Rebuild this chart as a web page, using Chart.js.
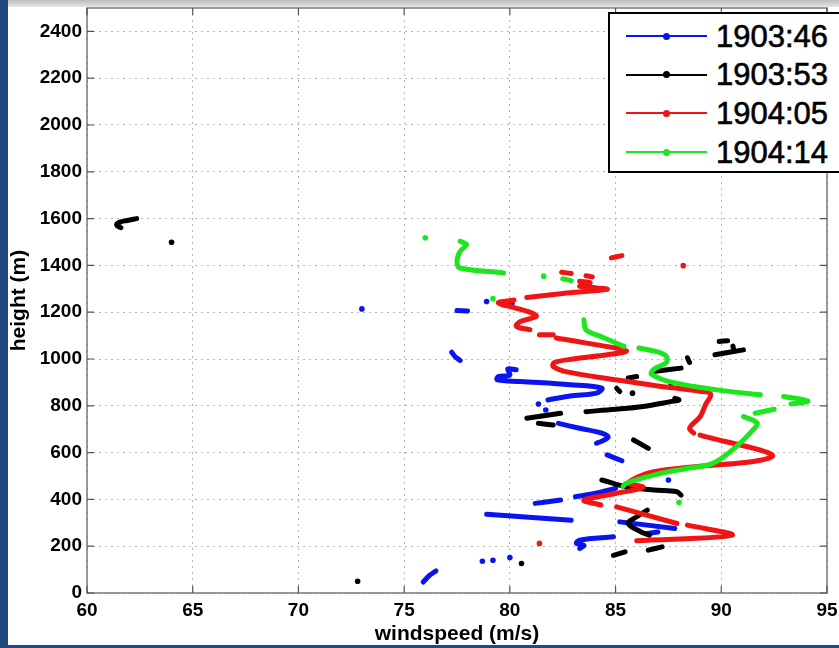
<!DOCTYPE html>
<html>
<head>
<meta charset="utf-8">
<script src="https://cdn.jsdelivr.net/npm/chart.js@4.4.1/dist/chart.umd.min.js"></script>
<style>
  html, body { margin:0; padding:0; background:#fff; overflow:hidden; }
  #wrap { position:relative; width:839px; height:648px; overflow:hidden; background:#fff; }
  #wrap canvas { position:absolute; left:0; top:0; }
  .band { position:absolute; background:#1f4a7e; }
  #topbar { position:absolute; left:0; top:0; width:839px; height:7px;
            background:linear-gradient(#bcbcbc,#e6e6e6); }
  #legend { position:absolute; left:608px; top:12px; width:250px; height:157px;
            border:2px solid #000; background:#fff; }
  .lg-line { position:absolute; height:2px; }
  .lg-dot { position:absolute; width:7px; height:7px; border-radius:50%; }
  .lg-text { position:absolute; font-family:"Liberation Sans", Arial, sans-serif;
             font-size:31px; color:#000; line-height:31px; -webkit-text-stroke:0.6px #000; }
</style>
</head>
<body>
<div id="wrap">
  <div id="topbar"></div>
  <canvas id="c" width="839" height="648"></canvas>
  <div class="band" style="left:0;top:0;width:8px;height:648px"></div>
  <div class="band" style="left:0;top:645px;width:839px;height:3px"></div>
  <div id="legend"></div>
</div>
<script>
/* ===== DATA (windspeed m/s, height m) — null breaks a trace ===== */
const labels = ['1903:46','1903:53','1904:05','1904:14'];
const colors = ['#0a14f0','#000000','#f01414','#1ee61e'];

const xTicks = [60,65,70,75,80,85,90,95];
const yTicks = [0,200,400,600,800,1000,1200,1400,1600,1800,2000,2200,2400];

const blueWs = [73.0,null, 78.9,null, 80.1,null, 77.5,78.0,null,
  77.25,77.4,77.65,null,
  80.3,79.9,80.0,79.45,79.4,80.5,82.85,84.35,84.1,82.85,81.8,null,
  81.35,null, 81.7,null,
  82.3,83.3,84.35,84.65,84.3,84.1,null,
  84.6,85.3,null, 87.5,null,
  83.1,84.0,85.0,null, 81.2,82.4,null, 78.9,82.9,null,
  85.2,87.8,null, 86.5,87.0,null,
  84.9,83.3,83.15,83.5,83.3,null,
  80.0,null, 79.2,null, 78.7,null,
  76.5,76.2,75.9];
const blueH = [1214,null, 1246,null, 1238,null, 1207,1205,null,
  1029,1011,994,null,
  954,957,932,925,911,904,890,875,854,842,825,null,
  808,null, 782,null,
  725,704,683,666,647,640,null,
  590,565,null, 483,null,
  411,425,447,null, 383,397,null, 337,311,null,
  304,276,null, 254,261,null,
  240,226,212,204,190,null,
  152,null, 140,null, 136,null,
  94,75,47];

const blackWs = [62.35,61.9,61.55,61.4,61.6,null, 64.0,null,
  89.9,90.3,null, 90.55,90.6,null, 89.7,91.05,null,
  88.4,88.5,null, 86.8,88.1,null, 85.6,86.0,null,
  85.05,85.2,null, 85.8,null, 87.6,null,
  83.6,85.0,86.3,87.6,88.0,87.8,null,
  80.8,82.4,null, 81.35,82.05,null,
  85.85,86.55,null,
  84.35,85.5,86.8,87.9,88.1,null,
  86.5,86.0,85.6,86.2,86.6,null,
  84.9,85.45,null, 86.55,87.2,null,
  80.55,null, 72.8];
const blackH = [1600,1592,1585,1572,1561,null, 1499,null,
  1075,1078,null, 1055,1035,null, 1018,1039,null,
  1005,985,null, 947,961,null, 919,925,null,
  875,861,null, 854,null, 882,null,
  775,785,797,818,825,832,null,
  747,768,null, 725,718,null,
  654,618,null,
  483,454,440,433,418,null,
  354,326,297,261,247,null,
  161,176,null, 183,197,null,
  126,null, 50];

const redWs = [84.8,85.3,null, 88.2,null, 82.45,82.9,null, 83.6,83.9,null,
  83.3,83.8,83.3,84.1,84.6,82.5,80.8,null,
  80.2,79.45,80.2,81.0,81.25,80.5,80.3,80.95,null,
  81.4,82.05,null,
  82.2,83.5,85.5,84.6,83.0,82.1,82.05,82.7,84.9,87.0,89.0,89.5,89.25,89.0,88.5,88.7,null,
  89.0,92.4,86.8,85.6,86.3,85.0,83.5,84.3,null,
  85.05,87.9,null, 88.4,90.5,86.0,null,
  81.4];
const redH = [1432,1442,null, 1399,null, 1371,1365,null, 1356,1351,null,
  1332,1325,1311,1304,1298,1280,1263,null,
  1252,1240,1220,1198,1182,1160,1140,1125,null,
  1104,1104,null,
  1090,1070,1035,1018,1000,985,968,945,912,885,862,850,804,754,704,683,null,
  675,583,518,470,452,425,397,376,null,
  368,297,null, 290,247,223,null,
  212];

const greenWs = [76.0,null,
  77.65,77.95,77.65,77.5,77.65,79.7,null,
  81.6,null, 82.5,82.9,null, 79.2,null,
  83.5,83.6,84.3,85.4,null,
  86.1,87.0,87.4,87.4,86.8,86.7,87.7,89.8,91.85,null,
  92.95,94.1,93.3,null, 92.5,91.6,null,
  91.05,91.7,91.5,90.7,89.6,88.4,86.8,85.5,85.35,null,
  88.0];
const greenH = [1518,null,
  1503,1489,1460,1418,1389,1368,null,
  1354,null, 1343,1335,null, 1258,null,
  1168,1125,1096,1054,null,
  1047,1030,1011,985,955,935,900,868,847,null,
  840,820,808,null, 785,768,null,
  754,726,697,625,554,533,504,469,455,null,
  387];

const FONT = "'Liberation Sans', Arial, sans-serif";

function pts(ws, h) {
  return ws.map((x, i) => ({ x: x, y: h[i] }));
}

// lone points (no neighbour on either side) get a dot, traces get none
function dotRadius(ctx) {
  const d = ctx.dataset.data, i = ctx.dataIndex;
  const p = d[i - 1], n = d[i + 1];
  const lone = (!p || p.y === null) && (!n || n.y === null);
  return lone ? 2.8 : 0;
}

function series(i, ws, h, order) {
  return {
    label: labels[i], data: pts(ws, h), order: order,
    showLine: true, spanGaps: false, tension: 0.35,
    borderColor: colors[i], backgroundColor: colors[i],
    borderWidth: 5, borderCapStyle: 'round', borderJoinStyle: 'round',
    pointRadius: dotRadius, pointBorderWidth: 0, pointHoverRadius: 0,
  };
}

/* ===== frame + inward MATLAB-style ticks ===== */
const frame = {
  id: 'frame',
  afterDraw(chart) {
    const { ctx, chartArea: a, scales } = chart;
    ctx.save();
    ctx.strokeStyle = '#7a7a7a'; ctx.lineWidth = 1.5;
    ctx.strokeRect(a.left, a.top, a.right - a.left, a.bottom - a.top);
    ctx.strokeStyle = '#555'; ctx.lineWidth = 1.2;
    ctx.beginPath();
    xTicks.forEach(v => {
      const px = scales.x.getPixelForValue(v);
      ctx.moveTo(px, a.bottom); ctx.lineTo(px, a.bottom - 7);
      ctx.moveTo(px, a.top); ctx.lineTo(px, a.top + 7);
    });
    yTicks.forEach(v => {
      const py = scales.y.getPixelForValue(v);
      ctx.moveTo(a.left, py); ctx.lineTo(a.left + 7, py);
      ctx.moveTo(a.right, py); ctx.lineTo(a.right - 7, py);
    });
    ctx.stroke();
    ctx.restore();
  }
};

function noPad(s) {
  s.paddingTop = 0; s.paddingBottom = 0; s.paddingLeft = 0; s.paddingRight = 0;
}

new Chart(document.getElementById('c'), {
  type: 'scatter',
  data: {
    datasets: [
      series(0, blueWs, blueH, 3),
      series(1, blackWs, blackH, 2),
      series(2, redWs, redH, 1),
      series(3, greenWs, greenH, 0),
    ]
  },
  options: {
    responsive: false, animation: false, events: [],
    layout: { padding: { left: 0, top: 8, right: 12, bottom: 0 } },
    plugins: { legend: { display: false }, tooltip: { enabled: false } },
    scales: {
      x: {
        type: 'linear', min: 60, max: 95,
        afterBuildTicks: s => { s.ticks = xTicks.map(v => ({ value: v })); },
        afterFit: s => { s.height = 55; noPad(s); },
        grid: { color: '#b4b4b4', lineWidth: 1, drawTicks: false },
        border: { display: false, dash: [2, 4] },
        ticks: { font: { family: FONT, size: 19, weight: 'bold' }, color: '#000', padding: 6,
                 maxRotation: 0, callback: v => String(v) },
        title: { display: true, text: 'windspeed (m/s)', color: '#000',
                 font: { family: FONT, size: 21, weight: 'bold' }, padding: { top: 0, bottom: 1 } }
      },
      y: {
        type: 'linear', min: 0, max: 2500,
        afterBuildTicks: s => { s.ticks = yTicks.map(v => ({ value: v })); },
        afterFit: s => { s.width = 87; noPad(s); },
        grid: { color: '#b4b4b4', lineWidth: 1, drawTicks: false },
        border: { display: false, dash: [2, 4] },
        ticks: { font: { family: FONT, size: 19, weight: 'bold' }, color: '#000', padding: 5,
                 callback: v => String(v) },
        title: { display: true, text: 'height (m)', color: '#000',
                 font: { family: FONT, size: 21, weight: 'bold' }, padding: { top: 7, bottom: 0 } }
      }
    }
  },
  plugins: [frame]
});

/* ===== legend box (top right, runs off the edge) ===== */
const lg = document.getElementById('legend');
labels.forEach((t, i) => {
  const cy = 22 + i * 38.7;          // row centre inside the box
  const line = document.createElement('div');
  line.className = 'lg-line';
  line.style.cssText = `left:16px;top:${cy - 1}px;width:81px;background:${colors[i]}`;
  const dot = document.createElement('div');
  dot.className = 'lg-dot';
  dot.style.cssText = `left:53px;top:${cy - 3.5}px;background:${colors[i]}`;
  const txt = document.createElement('div');
  txt.className = 'lg-text';
  txt.style.cssText = `left:106px;top:${cy - 15.5}px`;
  txt.textContent = t;
  lg.append(line, dot, txt);
});
</script>
</body>
</html>
